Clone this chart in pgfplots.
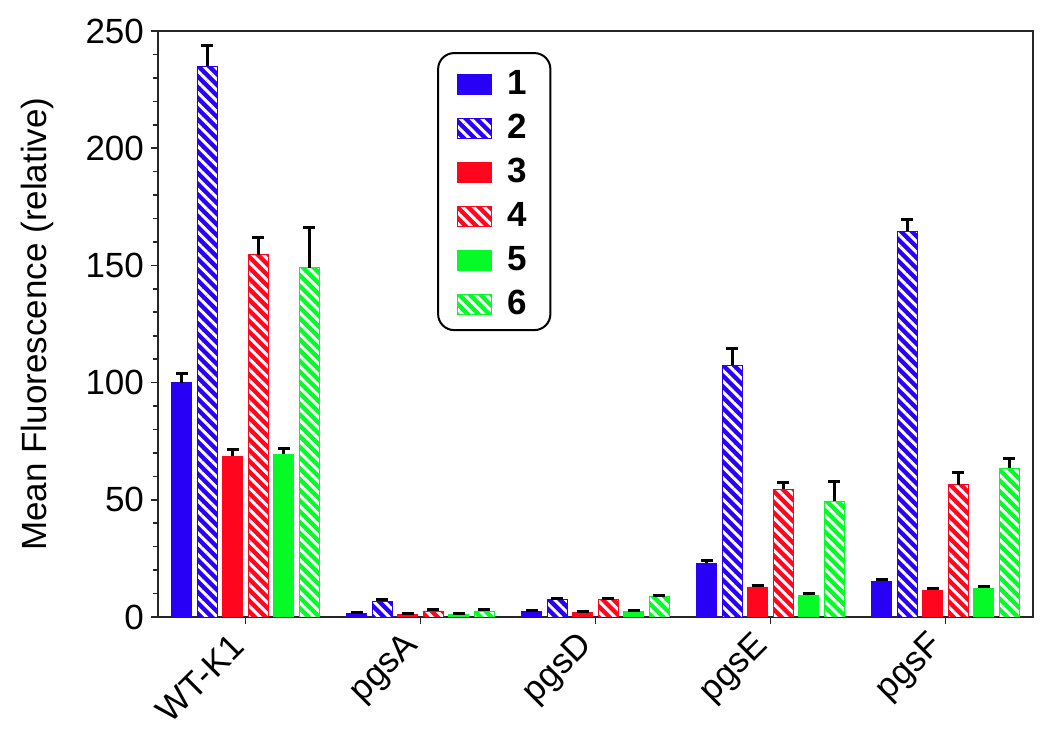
\documentclass[border=0pt]{standalone}
\usepackage{fontspec}
\setmainfont{Liberation Sans}
\usepackage{pgfplots}
\usepackage{pgfplotstable}
\pgfplotsset{compat=1.18}
\usetikzlibrary{patterns.meta}
\definecolor{cb}{RGB}{40,0,245}
\definecolor{cr}{RGB}{255,5,30}
\definecolor{cg}{RGB}{5,250,40}

\pgfplotstableread{
x v1 e1 v2 e2 v3 e3 v4 e4 v5 e5 v6 e6
0 100 4 235 9 68.5 3 154.5 7.5 69.5 2.5 149 17
1 1.4 0.6 6.8 0.6 0.9 0.5 2.6 0.7 0.9 0.5 2.6 0.7
2 2.4 0.5 7.3 0.5 2.0 0.5 7.3 0.5 2.4 0.4 8.6 0.6
3 23 1.3 107.5 7 12.8 0.8 54.5 3 9.2 0.7 49.5 8.3
4 15.2 0.8 164.5 5 11.5 0.7 56.5 5.3 12.3 0.7 63.5 4
}\data

\tikzset{hatch/.style={postaction={pattern={Lines[angle=-45,distance=3.8pt,line width=1.5pt]}, pattern color=white}}}

\begin{document}
\begin{tikzpicture}
\begin{axis}[
  scale only axis, width=437.5pt, height=293pt,
  xmin=-0.5, xmax=4.5, ymin=0, ymax=250,
  xtick={0,1,2,3,4}, xticklabels={WT-K1,pgsA,pgsD,pgsE,pgsF},
  ytick={0,50,100,150,200,250}, minor y tick num=4,
  xtick pos=bottom, ytick pos=left, tick align=outside,
  major tick length=3.5pt, minor tick length=2.5pt,
  axis line style={line width=1pt, black!85},
  every tick/.style={line width=0.8pt, black!85},
  x tick label style={font=\fontsize{17.5}{21}\selectfont, inner sep=1pt, xshift=-3pt, yshift=-7.5pt, rotate=45, anchor=east},
  y tick label style={font=\fontsize{17.5}{21}\selectfont},
  /pgf/number format/assume math mode=true,
  ylabel={Mean Fluorescence (relative)},
  ylabel style={font=\fontsize{17.5}{21}\selectfont, at={(axis description cs:-0.138,0.5)}, anchor=center},
  ybar, bar width=0.114,
  legend image code/.code={\draw[#1, sharp corners, line width=0.4pt] (0pt,-6.25pt) rectangle (17pt,3.75pt);},
  legend style={at={(axis description cs:0.319,0.964)}, anchor=north west, draw=black, line width=1pt,
    rounded corners=8pt, inner xsep=9.5pt, inner ysep=6pt, row sep=5.5pt, column sep=6pt,
    font=\bfseries\fontsize{17.5}{21}\selectfont,
    nodes={inner sep=2pt, text height=12.5pt, text depth=0pt}},
  legend cell align=left,
  error bars/y dir=plus, error bars/y explicit,
  error bars/error bar style={line width=1.5pt, black},
  error bars/error mark options={rotate=90, line width=1.5pt, mark size=3pt, black},
]
\addplot[fill=cb, draw=cb, bar shift=-0.364] table[x=x, y=v1, y error=e1]{\data};
\addplot[fill=cb, draw=cb, hatch, bar shift=-0.219] table[x=x, y=v2, y error=e2]{\data};
\addplot[fill=cr, draw=cr, bar shift=-0.073] table[x=x, y=v3, y error=e3]{\data};
\addplot[fill=cr, draw=cr, hatch, bar shift=0.073] table[x=x, y=v4, y error=e4]{\data};
\addplot[fill=cg, draw=cg, bar shift=0.219] table[x=x, y=v5, y error=e5]{\data};
\addplot[fill=cg, draw=cg, hatch, bar shift=0.364] table[x=x, y=v6, y error=e6]{\data};
\legend{1,2,3,4,5,6}
\end{axis}
\pgfresetboundingbox
\path[use as bounding box] ([xshift=-79pt,yshift=-58pt]current axis.south west) rectangle ([xshift=8.5pt,yshift=15.5pt]current axis.north east);
\end{tikzpicture}
\end{document}
